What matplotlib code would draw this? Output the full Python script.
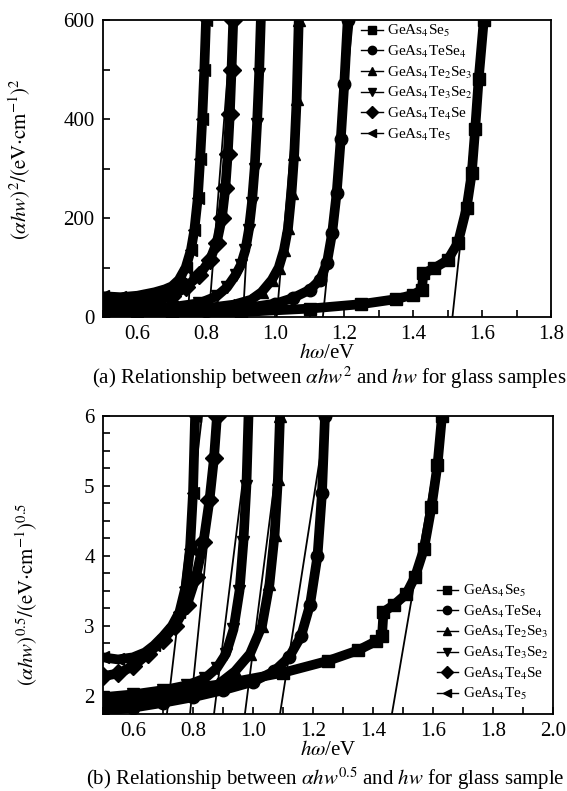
import matplotlib
matplotlib.use("Agg")
import matplotlib.pyplot as plt
from matplotlib.lines import Line2D
from matplotlib.ticker import MultipleLocator

plt.rcParams['font.family'] = ['Liberation Serif', 'DejaVu Serif']
plt.rcParams['mathtext.fontset'] = 'stix'

# ---------------- data ----------------
labels = [r"GeAs$_4$Se$_5$", r"GeAs$_4$TeSe$_4$", r"GeAs$_4$Te$_2$Se$_3$",
          r"GeAs$_4$Te$_3$Se$_2$", r"GeAs$_4$Te$_4$Se", r"GeAs$_4$Te$_5$"]
markers = ['s', 'o', '^', 'v', 'D', '<']

# (a) (alpha h nu)^2 vs h nu
a_se5_x = [0.50, 0.70, 0.90, 1.10, 1.25, 1.35, 1.40, 1.425, 1.43, 1.46, 1.50, 1.53, 1.555, 1.57, 1.58, 1.59, 1.605]
a_se5_y = [3, 6, 10, 17, 26, 36, 45, 55, 88, 98, 115, 150, 220, 290, 380, 480, 600]
a_tese4_x = [0.50, 0.60, 0.70, 0.80, 0.90, 1.00, 1.05, 1.10, 1.13, 1.15, 1.165, 1.178, 1.19, 1.20, 1.21]
a_tese4_y = [5, 7, 9, 12, 17, 27, 38, 55, 75, 110, 170, 250, 360, 470, 600]
a_te2se3_x = [0.50, 0.60, 0.70, 0.80, 0.88, 0.93, 0.96, 0.99, 1.01, 1.025, 1.037, 1.047, 1.055, 1.062, 1.068]
a_te2se3_y = [8, 10, 13, 18, 25, 35, 50, 75, 100, 135, 180, 250, 330, 440, 600]
a_te3se2_x = [0.50, 0.60, 0.70, 0.78, 0.83, 0.86, 0.885, 0.90, 0.913, 0.923, 0.932, 0.940, 0.947, 0.953, 0.958]
a_te3se2_y = [12, 15, 20, 28, 42, 60, 85, 105, 135, 175, 230, 300, 390, 490, 600]
a_te4se_x = [0.50, 0.55, 0.60, 0.65, 0.70, 0.74, 0.78, 0.81, 0.83, 0.845, 0.855, 0.862, 0.868, 0.873, 0.878]
a_te4se_y = [22, 24, 27, 32, 42, 60, 85, 115, 150, 200, 260, 330, 410, 500, 600]
a_te5_x = [0.50, 0.55, 0.60, 0.65, 0.68, 0.70, 0.72, 0.74, 0.755, 0.765, 0.775, 0.782, 0.788, 0.794, 0.799]
a_te5_y = [42, 40, 43, 50, 56, 62, 75, 100, 135, 175, 240, 320, 400, 500, 600]

# fitted lines for (a): x at y=0 and x at y=600
a_fit_x0 = [1.514, 1.138, 1.004, 0.906, 0.807, 0.746]
a_fit_x1 = [1.607, 1.225, 1.077, 0.955, 0.874, 0.801]
a_fit_y = [0, 600]

# (b) (alpha h nu)^0.5 vs h nu
b_se5_x = [0.50, 0.70, 0.90, 1.10, 1.25, 1.35, 1.41, 1.43, 1.435, 1.47, 1.51, 1.54, 1.57, 1.595, 1.615, 1.63]
b_se5_y = [1.95, 2.05, 2.17, 2.33, 2.50, 2.65, 2.78, 2.85, 3.20, 3.30, 3.45, 3.70, 4.10, 4.70, 5.30, 6.00]
b_tese4_x = [0.50, 0.60, 0.70, 0.80, 0.90, 1.00, 1.07, 1.12, 1.16, 1.19, 1.215, 1.23, 1.24]
b_tese4_y = [1.78, 1.83, 1.90, 1.98, 2.08, 2.20, 2.35, 2.55, 2.85, 3.30, 4.00, 4.90, 6.00]
b_te2se3_x = [0.50, 0.60, 0.70, 0.80, 0.88, 0.94, 0.99, 1.03, 1.055, 1.072, 1.083, 1.09]
b_te2se3_y = [1.85, 1.90, 1.97, 2.05, 2.15, 2.35, 2.60, 3.00, 3.60, 4.30, 5.10, 6.00]
b_te3se2_x = [0.50, 0.60, 0.70, 0.78, 0.84, 0.88, 0.91, 0.935, 0.955, 0.968, 0.978, 0.985]
b_te3se2_y = [1.98, 2.02, 2.08, 2.15, 2.25, 2.40, 2.60, 2.95, 3.50, 4.20, 5.00, 6.00]
b_te4se_x = [0.50, 0.55, 0.60, 0.65, 0.70, 0.74, 0.78, 0.81, 0.835, 0.855, 0.87, 0.88]
b_te4se_y = [2.28, 2.32, 2.42, 2.60, 2.80, 3.00, 3.30, 3.70, 4.20, 4.80, 5.40, 6.00]
b_te5_x = [0.50, 0.55, 0.60, 0.64, 0.67, 0.70, 0.73, 0.755, 0.775, 0.79, 0.80, 0.807]
b_te5_y = [2.55, 2.52, 2.55, 2.62, 2.72, 2.85, 3.00, 3.20, 3.55, 4.10, 4.90, 6.00]

# fitted lines for (b): x at y=1.74 and x at y=6
b_fit_x0 = [1.463, 1.09, 0.973, 0.87, 0.79, 0.713]
b_fit_x1 = [1.633, 1.245, 1.10, 0.993, 0.89, 0.83]
b_fit_y = [1.74, 6.0]

a_series = [(a_se5_x, a_se5_y), (a_tese4_x, a_tese4_y), (a_te2se3_x, a_te2se3_y),
            (a_te3se2_x, a_te3se2_y), (a_te4se_x, a_te4se_y), (a_te5_x, a_te5_y)]
b_series = [(b_se5_x, b_se5_y), (b_tese4_x, b_tese4_y), (b_te2se3_x, b_te2se3_y),
            (b_te3se2_x, b_te3se2_y), (b_te4se_x, b_te4se_y), (b_te5_x, b_te5_y)]

# ---------------- figure ----------------
fig = plt.figure(figsize=(5.67, 7.91), dpi=100)
W, H = 567, 791
def box(l, t, r, b):
    return [l / W, 1 - b / H, (r - l) / W, (b - t) / H]

ax1 = fig.add_axes(box(103, 20, 551, 317))
ax2 = fig.add_axes(box(103, 416, 553, 714))

tick_fs = 15
for ax in (ax1, ax2):
    for s in ax.spines.values():
        s.set_linewidth(1.3)
    ax.tick_params(which='both', direction='in', top=False, right=False,
                   labelsize=tick_fs, width=1.2, length=5, pad=6)

def draw(ax, series, fx0, fx1, fy):
    for (x, y), m in zip(series, markers):
        ax.plot(x, y, color='k', lw=7, marker=m, ms=9, solid_joinstyle='round',
                solid_capstyle='round', clip_on=True)
    for x0, x1 in zip(fx0, fx1):
        ax.plot([x0, x1], fy, color='k', lw=1.3)

draw(ax1, a_series, a_fit_x0, a_fit_x1, a_fit_y)
draw(ax2, b_series, b_fit_x0, b_fit_x1, b_fit_y)

ax1.set_xlim(0.5, 1.8)
ax1.set_ylim(0, 600)
ax1.xaxis.set_minor_locator(MultipleLocator(0.1))
ax1.yaxis.set_major_locator(MultipleLocator(200))
ax1.yaxis.set_minor_locator(MultipleLocator(100))
ax1.set_xticks([0.6, 0.8, 1.0, 1.2, 1.4, 1.6, 1.8])
ax1.set_xticklabels(['0.6', '0.8', '1.0', '1.2', '1.4', '1.6', '1.8'])

ax2.set_xlim(0.5, 2.0)
ax2.set_ylim(1.74, 6)
ax2.set_xticks([0.6, 0.8, 1.0, 1.2, 1.4, 1.6, 1.8, 2.0])
ax2.set_xticklabels(['0.6', '0.8', '1.0', '1.2', '1.4', '1.6', '1.8', '2.0'])
ax2.xaxis.set_minor_locator(MultipleLocator(0.1))
ax2.set_yticks([2, 3, 4, 5, 6])
ax2.yaxis.set_minor_locator(MultipleLocator(0.25))

lab_fs = 15
ax1.set_xlabel(r"$h\omega$/eV", fontsize=lab_fs, labelpad=0)
ax1.set_ylabel(r"$(\alpha hw)^2/(\mathrm{eV{\cdot}cm^{-1}})^2$", fontsize=lab_fs)
ax1.yaxis.set_label_coords(-0.156, 0.53)
ax2.set_xlabel(r"$h\omega$/eV", fontsize=lab_fs, labelpad=0)
ax2.set_ylabel(r"$(\alpha hw)^{0.5}/(\mathrm{eV{\cdot}cm^{-1}})^{0.5}$", fontsize=lab_fs)
ax2.yaxis.set_label_coords(-0.14, 0.40)

fig.text(329 / W, 1 - 378 / H, r"(a) Relationship between $\alpha hw^2$ and $hw$ for glass samples",
         ha='center', va='center', fontsize=15)
fig.text(325 / W, 1 - 779 / H, r"(b) Relationship between $\alpha hw^{0.5}$ and $hw$ for glass sample",
         ha='center', va='center', fontsize=15)

handles = [Line2D([], [], color='k', lw=1, marker=m, ms=6) for m in markers]
ax1.legend(handles, labels, loc='upper left', bbox_to_anchor=(0.57, 1.0), frameon=False,
           fontsize=11, handlelength=1.4, handletextpad=0.3, labelspacing=0.3,
           borderpad=0.2, borderaxespad=0)
ax2.legend(handles, labels, loc='upper left', bbox_to_anchor=(0.735, 0.45), frameon=False,
           fontsize=11, handlelength=1.4, handletextpad=0.3, labelspacing=0.3,
           borderpad=0.2, borderaxespad=0)

fig.savefig("out.png", dpi=100)
